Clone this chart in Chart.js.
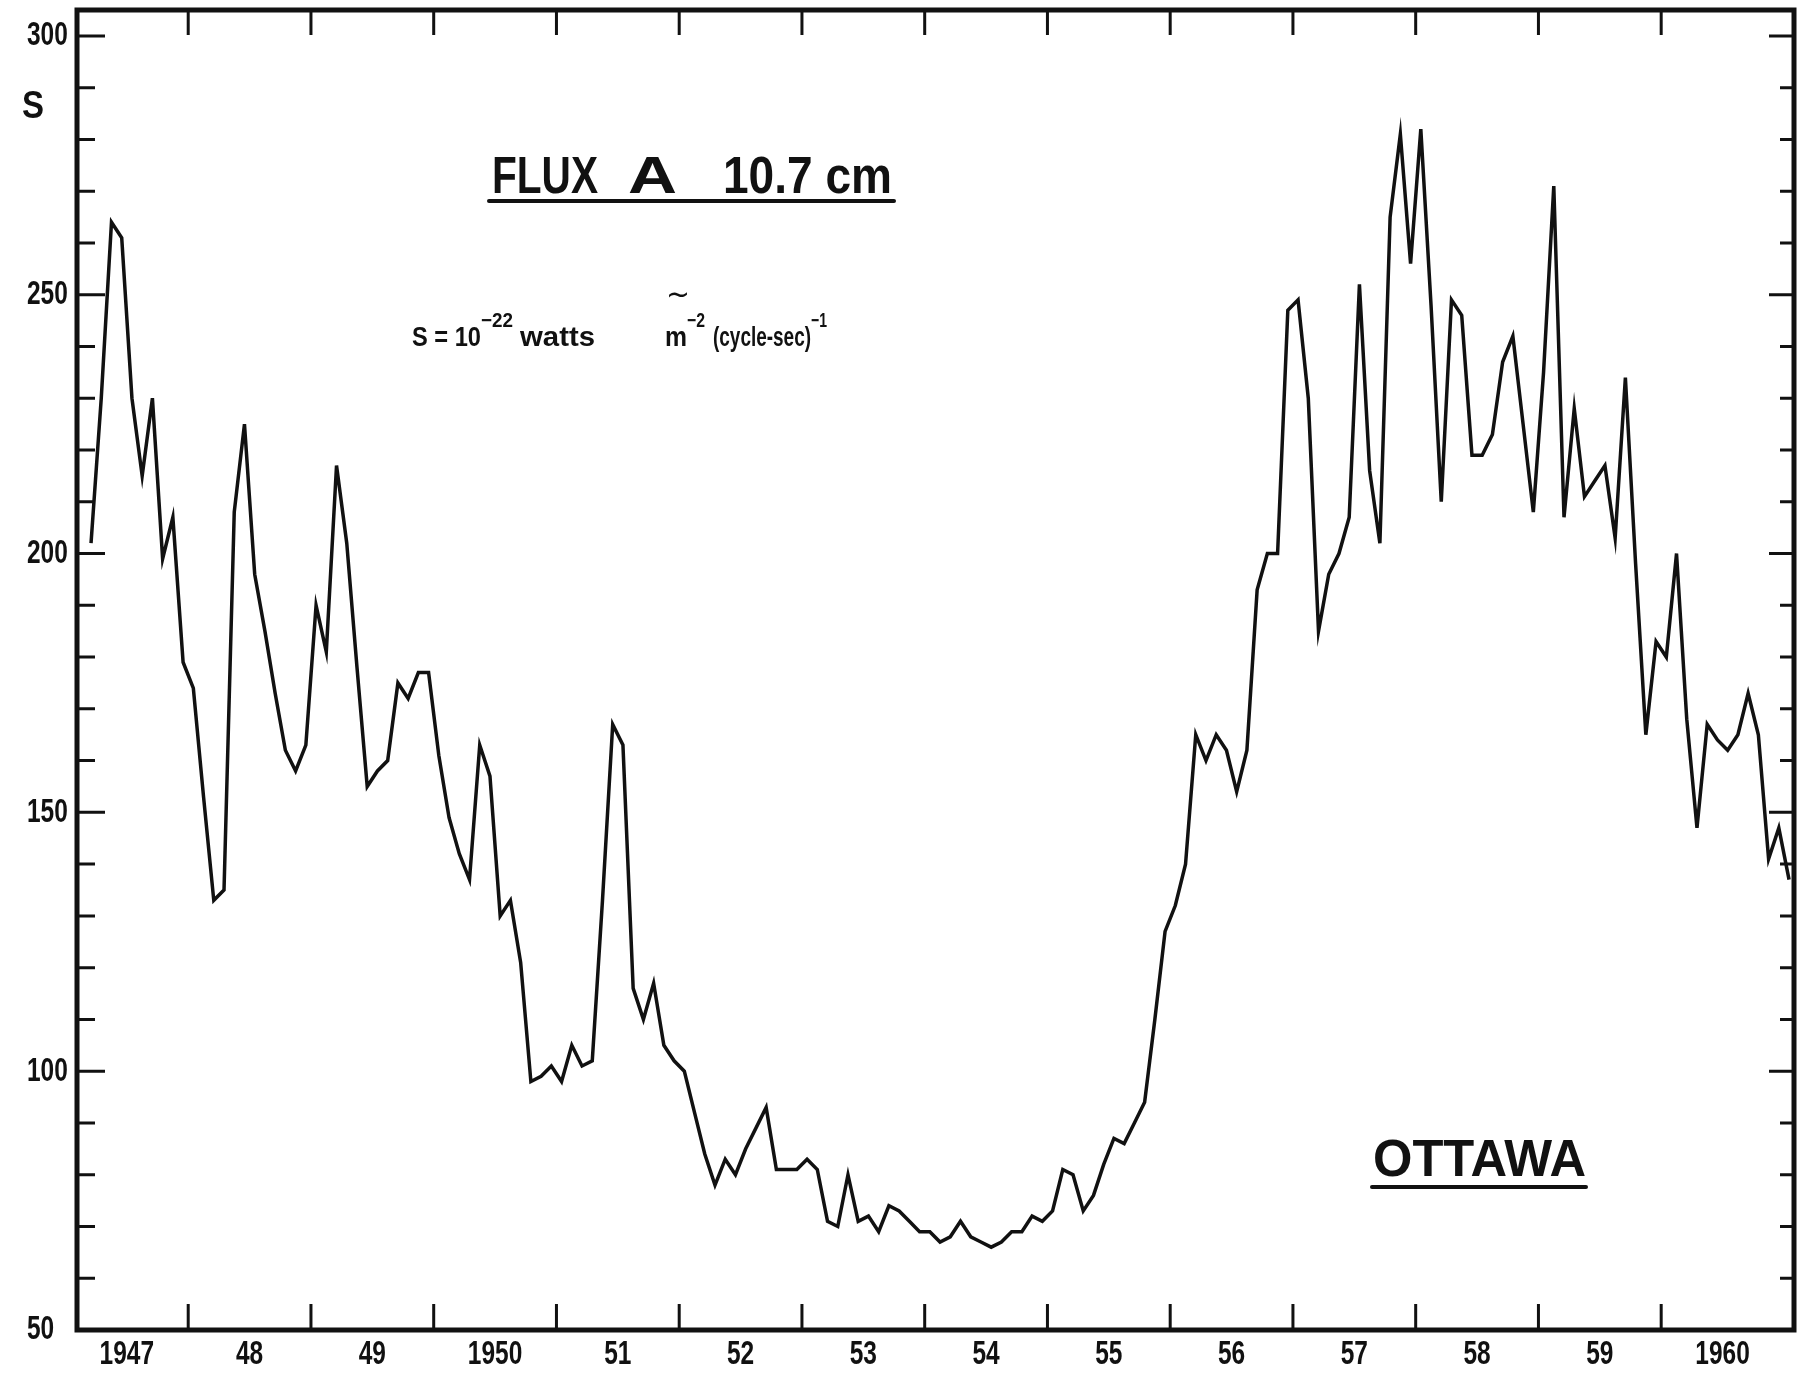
<!DOCTYPE html>
<html>
<head>
<meta charset="utf-8">
<script src="https://cdn.jsdelivr.net/npm/chart.js@4.4.1/dist/chart.umd.min.js"></script>
<style>
  html, body { margin: 0; padding: 0; background: #fff; }
  #wrap { position: relative; width: 1803px; height: 1379px; }
</style>
</head>
<body>
<div id="wrap"><canvas id="flux"></canvas></div>
<script>
// Monthly mean 10.7 cm solar flux, Ottawa (units of 10^-22 W m^-2 (c/s)^-1).
// 1947 starts in March; 1961 holds January only.
const flux1947 = [202, 230, 264, 261, 230, 215, 230, 199, 207, 179];
const flux1948 = [174, 153, 133, 135, 208, 225, 196, 185, 173, 162, 158, 163];
const flux1949 = [190, 181, 217, 202, 178, 155, 158, 160, 175, 172, 177, 177];
const flux1950 = [161, 149, 142, 137, 163, 157, 130, 133, 121, 98, 99, 101];
const flux1951 = [98, 105, 101, 102, 133, 167, 163, 116, 110, 117, 105, 102];
const flux1952 = [100, 92, 84, 78, 83, 80, 85, 89, 93, 81, 81, 81];
const flux1953 = [83, 81, 71, 70, 80, 71, 72, 69, 74, 73, 71, 69];
const flux1954 = [69, 67, 68, 71, 68, 67, 66, 67, 69, 69, 72, 71];
const flux1955 = [73, 81, 80, 73, 76, 82, 87, 86, 90, 94, 110, 127];
const flux1956 = [132, 140, 165, 160, 165, 162, 154, 162, 193, 200, 200, 247];
const flux1957 = [249, 230, 185, 196, 200, 207, 252, 216, 202, 265, 281, 256];
const flux1958 = [282, 248, 210, 249, 246, 219, 219, 223, 237, 242, 225, 208];
const flux1959 = [235, 271, 207, 228, 211, 214, 217, 203, 234, 198, 165, 183];
const flux1960 = [180, 200, 168, 147, 167, 164, 162, 165, 173, 165, 141, 147];
const flux1961 = [137];

const years = [1947, 1948, 1949, 1950, 1951, 1952, 1953, 1954,
               1955, 1956, 1957, 1958, 1959, 1960, 1961];
const fluxByYear = [flux1947, flux1948, flux1949, flux1950, flux1951, flux1952, flux1953,
                    flux1954, flux1955, flux1956, flux1957, flux1958, flux1959, flux1960, flux1961];
const firstMonth = 3; // first month of the series (March 1947)

const yearLabels = ['1947', '48', '49', '1950', '51', '52', '53', '54',
                    '55', '56', '57', '58', '59', '1960'];
const yTickValues = [50, 100, 150, 200, 250, 300];

// Monthly points placed at mid-month in decimal years.
const points = [];
years.forEach((yr, i) => {
  const start = i === 0 ? firstMonth : 1;
  fluxByYear[i].forEach((v, j) => {
    const month = start + j;
    points.push({ x: yr + (month - 0.5) / 12, y: v });
  });
});

const INK = '#111';
const SANS = '"Liberation Sans", Arial, sans-serif';
const LABEL_FONT = 'bold 34px ' + SANS;
const LABEL_SQUEEZE = 0.72;

// Draws text squeezed or stretched to span x0..x1.
function fitText(ctx, str, x0, x1, base, font) {
  ctx.save();
  ctx.font = font;
  ctx.textAlign = 'left';
  ctx.textBaseline = 'alphabetic';
  const w = ctx.measureText(str).width;
  ctx.translate(x0, base);
  ctx.scale((x1 - x0) / w, 1);
  ctx.fillText(str, 0, 0);
  ctx.restore();
}

// Draws condensed lettering with a fixed horizontal squeeze.
function condensed(ctx, str, x, yMid, align) {
  ctx.save();
  ctx.font = LABEL_FONT;
  ctx.textBaseline = 'middle';
  ctx.textAlign = align;
  ctx.translate(x, yMid);
  ctx.scale(LABEL_SQUEEZE, 1);
  ctx.fillText(str, 0, 0);
  ctx.restore();
}

function hLine(ctx, x0, x1, y, w) {
  ctx.save();
  ctx.lineWidth = w;
  ctx.lineCap = 'round';
  ctx.beginPath(); ctx.moveTo(x0, y); ctx.lineTo(x1, y); ctx.stroke();
  ctx.restore();
}

// Frame, inward tick marks, tick labels and the lettering on the plot.
const frameAndLettering = {
  id: 'frameAndLettering',
  afterDraw(chart) {
    const { ctx, chartArea: a, scales: { x, y } } = chart;
    ctx.save();
    ctx.strokeStyle = INK;
    ctx.fillStyle = INK;

    // tick marks: year boundaries on top and bottom, every 10 units on both sides
    ctx.lineWidth = 3;
    ctx.lineCap = 'butt';
    for (let yr = 1948; yr <= 1960; yr++) {
      const px = x.getPixelForValue(yr);
      ctx.beginPath();
      ctx.moveTo(px, a.bottom); ctx.lineTo(px, a.bottom - 26);
      ctx.moveTo(px, a.top); ctx.lineTo(px, a.top + 25);
      ctx.stroke();
    }
    for (let v = 60; v <= 300; v += 10) {
      const py = y.getPixelForValue(v);
      const major = v % 50 === 0;
      ctx.beginPath();
      ctx.moveTo(a.left, py); ctx.lineTo(a.left + (major ? 28 : 18), py);
      ctx.moveTo(a.right, py); ctx.lineTo(a.right - (major ? 25 : 14), py);
      ctx.stroke();
    }

    // frame
    ctx.lineWidth = 5;
    ctx.strokeRect(a.left, a.top, a.right - a.left, a.bottom - a.top);

    // tick labels, taken from the scales' own ticks
    y.ticks.forEach(t => condensed(ctx, t.label, 27, y.getPixelForValue(t.value), 'left'));
    x.ticks.forEach(t => condensed(ctx, t.label, x.getPixelForValue(t.value), a.bottom + 25, 'center'));

    // axis title
    fitText(ctx, 'S', 22, 44, 118, 'bold 38px ' + SANS);

    // heading
    const big = 'bold 52px ' + SANS;
    fitText(ctx, 'FLUX', 492, 598, 193, big);
    fitText(ctx, 'A', 628, 677, 193, big);
    fitText(ctx, '10.7 cm', 723, 892, 193, big);
    hLine(ctx, 489, 894, 201, 4);

    // unit line
    const unit = 'bold 28px ' + SANS;
    const sup = 'bold 20px ' + SANS;
    fitText(ctx, 'S = 10', 412, 481, 346, unit);
    fitText(ctx, '\u221222', 481, 513, 327, sup);
    fitText(ctx, 'watts', 520, 595, 346, unit);
    fitText(ctx, 'm', 665, 687, 346, unit);
    fitText(ctx, '\u22122', 687, 705, 327, sup);
    fitText(ctx, '~', 666, 690, 304, '30px "DejaVu Sans", sans-serif');
    fitText(ctx, '(cycle-sec)', 713, 811, 346, unit);
    fitText(ctx, '\u22121', 811, 827, 327, sup);

    // station
    fitText(ctx, 'OTTAWA', 1373, 1586, 1176, 'bold 52px ' + SANS);
    hLine(ctx, 1372, 1586, 1187, 4);

    ctx.restore();
  }
};

new Chart(document.getElementById('flux'), {
  type: 'line',
  data: {
    datasets: [{
      data: points,
      borderColor: INK,
      borderWidth: 3.5,
      pointRadius: 0,
      tension: 0,
      fill: false
    }]
  },
  options: {
    responsive: true,
    maintainAspectRatio: false,
    devicePixelRatio: 1,
    animation: false,
    layout: { padding: { left: 25, top: 10, right: 9, bottom: 0 } },
    plugins: { legend: { display: false }, tooltip: { enabled: false } },
    scales: {
      x: {
        type: 'linear',
        min: 1947.094,
        max: 1961.082,
        grid: { display: false, drawTicks: false },
        border: { display: false },
        afterBuildTicks: s => { s.ticks = yearLabels.map((_, i) => ({ value: 1947.5 + i })); },
        afterFit: s => { s.height = 49; },
        ticks: { display: false, autoSkip: false, callback: (v, i) => yearLabels[i] }
      },
      y: {
        min: 50,
        max: 305,
        grid: { display: false, drawTicks: false },
        border: { display: false },
        afterBuildTicks: s => { s.ticks = yTickValues.map(v => ({ value: v })); },
        afterFit: s => { s.width = 52; },
        ticks: { display: false, callback: v => String(v) }
      }
    }
  },
  plugins: [frameAndLettering]
});
</script>
</body>
</html>
